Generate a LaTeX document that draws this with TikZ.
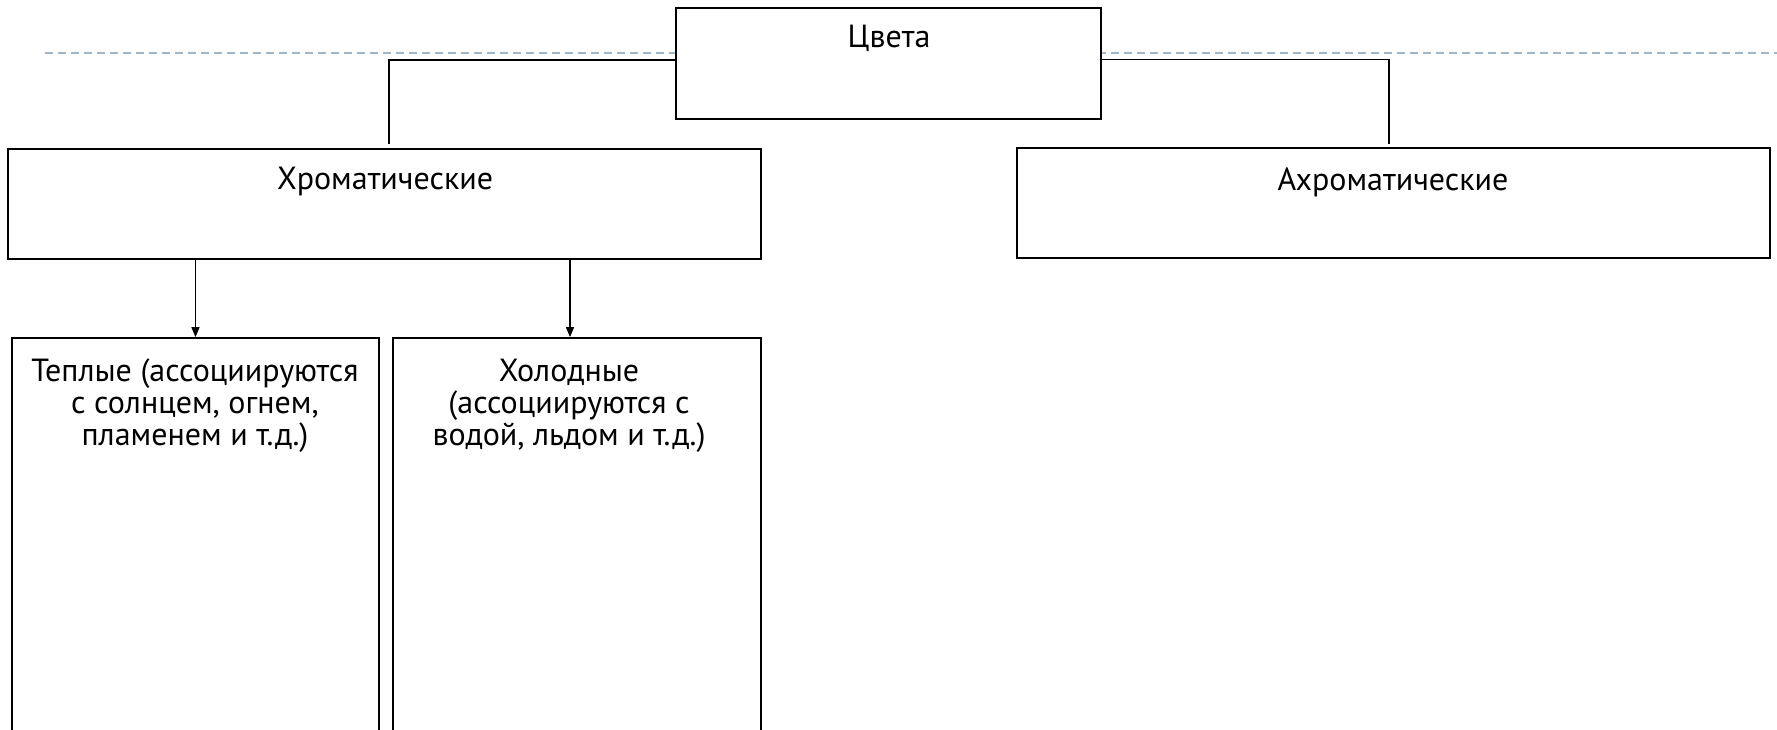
\documentclass[tikz,border=0pt]{standalone}
\usepackage{fontspec}
\setmainfont{PT Sans}
\usetikzlibrary{arrows.meta}
\definecolor{dashcol}{HTML}{A2B6CA}
\tikzset{
  box/.style={draw=black, line width=1.7pt, fill=white, rectangle, inner sep=0pt},
  lbl/.style={font=\fontsize{32}{32}\selectfont, inner sep=0pt, align=center},
  conn/.style={draw=black, line width=1.4pt},
  arr/.style={draw=black, line width=1.4pt, -{Triangle[length=10pt,width=8pt]}},
  guide/.style={draw=dashcol, line width=1.5pt, dash pattern=on 8pt off 5pt}
}
\begin{document}
\begin{tikzpicture}[x=1pt,y=-1pt]
\useasboundingbox (0,0) rectangle (1777,730);
\clip (0,0) rectangle (1777,730);
\fill[white] (0,0) rectangle (1777,730);
\coordinate (gs) at (45,53);
\coordinate (ge) at (1777,53);
\draw[guide] (gs) -- (ge);
\node[box, minimum width=425pt, minimum height=111pt] (colors) at (888.5,63.5) {};
\node[box, minimum width=753pt, minimum height=110pt] (chrom) at (384.5,204) {};
\node[box, minimum width=753pt, minimum height=110pt] (achrom) at (1393.5,203) {};
\node[box, minimum width=367pt, minimum height=462pt] (warm) at (195.5,569) {};
\node[box, minimum width=368pt, minimum height=462pt] (cold) at (577,569) {};
\node[lbl] (tcolors) at (889,38) {Цвета};
\node[lbl] (tchrom) at (385,182) {Хроматические};
\node[lbl] (tachrom) at (1393,182) {Ахроматические};
\node[lbl] (twarm) at (195,406) {Теплые (ассоциируются\\с солнцем, огнем,\\пламенем и т.д.)};
\node[lbl] (tcold) at (569,406) {Холодные\\(ассоциируются с\\водой, льдом и т.д.)};
\coordinate (lj) at (389,144);
\coordinate (rj) at (1389,144);
\draw[conn] ([yshift=3.5pt]colors.west) -| (lj);
\draw[conn] ([yshift=4pt]colors.east) -| (rj);
\draw[arr] (chrom.south -| warm.north) -- (warm.north);
\draw[arr] ([xshift=-7pt]chrom.south -| cold.north) -- ([xshift=-7pt]cold.north);
\end{tikzpicture}
\end{document}
